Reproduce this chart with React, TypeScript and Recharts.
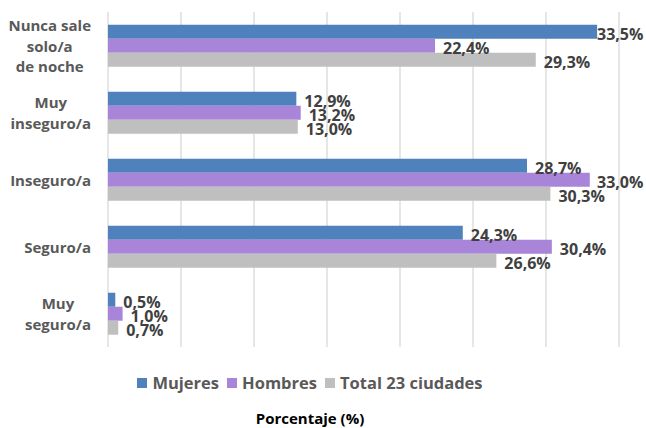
import React from 'react';
import { BarChart, Bar, XAxis, YAxis, CartesianGrid, Legend, LabelList } from 'recharts';

const categories = ['Nunca sale solo/a de noche', 'Muy inseguro/a', 'Inseguro/a', 'Seguro/a', 'Muy seguro/a'];
const categoryLines = [['Nunca sale', 'solo/a', 'de noche'], ['Muy', 'inseguro/a'], ['Inseguro/a'], ['Seguro/a'], ['Muy', 'seguro/a']];
const mujeres = [33.5, 12.9, 28.7, 24.3, 0.5];
const hombres = [22.4, 13.2, 33.0, 30.4, 1.0];
const total = [29.3, 13.0, 30.3, 26.6, 0.7];
const xTicks = [0, 5, 10, 15, 20, 25, 30, 35];

const seriesNames = ['Mujeres', 'Hombres', 'Total 23 ciudades'];
const colors = ['#4f81bd', '#a885d8', '#bfbfbf'];
const FONT = '"Open Sans", "DejaVu Sans", sans-serif';

const data = categories.map((name, i) => ({
  name,
  m: mujeres[i],
  h: hombres[i],
  t: total[i],
}));

let ctx: CanvasRenderingContext2D | null = null;
function measure(text: string, font: string): number {
  if (!ctx) {
    const c = document.createElement('canvas');
    ctx = c.getContext('2d');
  }
  if (!ctx) return text.length * 8;
  ctx.font = font;
  return ctx.measureText(text).width;
}

const YTick = (props: any) => {
  const { x, y, index } = props;
  const lines: string[] = categoryLines[index] || [];
  const font = `bold 15px ${FONT}`;
  const maxW = Math.max(...lines.map((l) => measure(l, font)));
  const cx = x - 9 - maxW / 2;
  const lh = 20.5;
  const start = y - ((lines.length - 1) * lh) / 2;
  return (
    <text textAnchor="middle" fill="#595959" fontFamily={FONT} fontWeight="bold" fontSize={15}>
      {lines.map((l, i) => (
        <tspan key={i} x={cx} y={start + i * lh} dominantBaseline="central">
          {l}
        </tspan>
      ))}
    </text>
  );
};

const fmt = (v: number) => v.toFixed(1).replace('.', ',') + '%';

const makeLabel = (props: any) => {
  const { x, y, width, height, value } = props;
  const lx = Math.min(x + width + 8, 597);
  return (
    <text
      x={lx}
      y={y + height / 2 + 2}
      dominantBaseline="central"
      fill="#404040"
      fontFamily={FONT}
      fontWeight="bold"
      fontSize={16}
    >
      {fmt(value)}
    </text>
  );
};

const LegendContent = () => (
  <div style={{ fontFamily: FONT, fontWeight: 'bold', textAlign: 'center' }}>
    <div
      style={{
        display: 'flex',
        justifyContent: 'center',
        alignItems: 'center',
        fontSize: 16.5,
        lineHeight: '22px',
        color: '#595959',
      }}
    >
      {seriesNames.map((n, i) => (
        <span key={n} style={{ display: 'inline-flex', alignItems: 'center', marginRight: i < 2 ? 8 : 0 }}>
          <span style={{ display: 'inline-block', width: 10, height: 10, background: colors[i], marginRight: 5 }} />
          {n}
        </span>
      ))}
    </div>
    <div style={{ marginTop: 16, fontSize: 15, lineHeight: '16px', color: '#000' }}>Porcentaje (%)</div>
  </div>
);

const gridX = (p: any) => {
  const s = p && p.xAxis && p.xAxis.scale;
  if (typeof s === 'function') return xTicks.map((t) => s(t));
  if (s && typeof s.map === 'function') return xTicks.map((t) => s.map(t));
  const off = p.offset;
  return xTicks.map((t) => off.left + (t / 35) * off.width);
};

export default function App() {
  return (
    <div style={{ position: 'absolute', left: 0, top: 0, width: 646, height: 428, background: '#fff' }}>
      <BarChart
        width={646}
        height={428}
        data={data}
        layout="vertical"
        margin={{ top: 12, right: 27, bottom: 81, left: 0 }}
        barCategoryGap="19%"
        barGap={0}
      >
        <CartesianGrid
          horizontal={false}
          vertical
          stroke="#d9d9d9"
          strokeWidth={1.3}
          verticalCoordinatesGenerator={gridX}
        />
        <XAxis
          type="number"
          domain={[0, 35]}
          ticks={xTicks}
          interval={0}
          tick={false}
          tickLine={false}
          axisLine={false}
          height={0}
        />
        <YAxis type="category" dataKey="name" width={108} tick={<YTick />} tickLine={false} axisLine={false} interval={0} />
        <Legend
          verticalAlign="middle"
          layout="horizontal"
          content={<LegendContent />}
          wrapperStyle={{ top: 372, left: -13, width: 646 }}
        />
        <Bar dataKey="m" name={seriesNames[0]} fill={colors[0]} isAnimationActive={false}>
          <LabelList dataKey="m" content={makeLabel} />
        </Bar>
        <Bar dataKey="h" name={seriesNames[1]} fill={colors[1]} isAnimationActive={false}>
          <LabelList dataKey="h" content={makeLabel} />
        </Bar>
        <Bar dataKey="t" name={seriesNames[2]} fill={colors[2]} isAnimationActive={false}>
          <LabelList dataKey="t" content={makeLabel} />
        </Bar>
      </BarChart>
    </div>
  );
}
